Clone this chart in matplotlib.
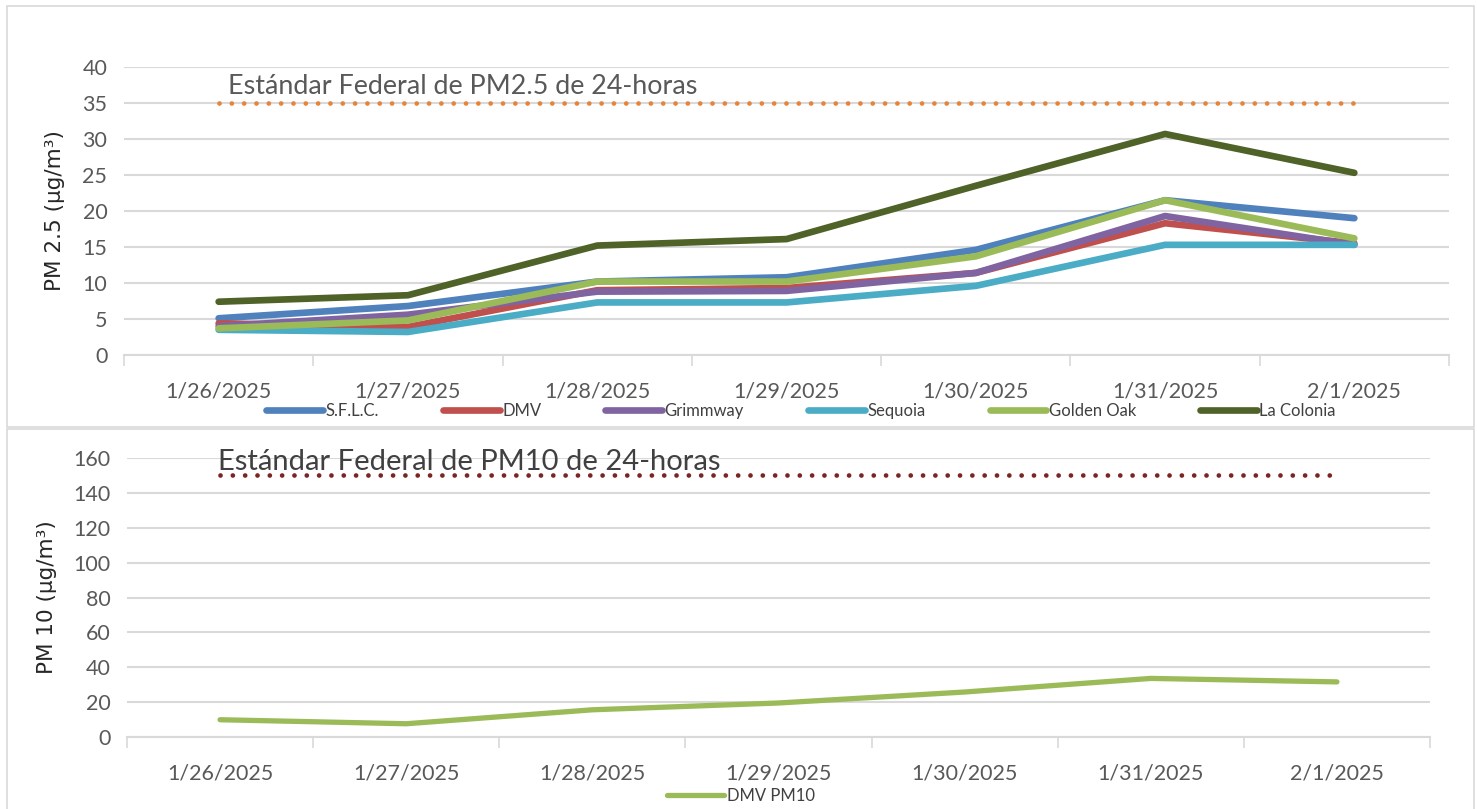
import matplotlib
matplotlib.use("Agg")
import matplotlib.pyplot as plt
from matplotlib.patches import Rectangle
import numpy as np

plt.rcParams['font.family'] = ['Lato', 'DejaVu Sans']

dates = ["1/26/2025", "1/27/2025", "1/28/2025", "1/29/2025", "1/30/2025", "1/31/2025", "2/1/2025"]

sflc = [5.1, 6.8, 10.2, 10.8, 14.6, 21.5, 19.0]
dmv = [4.4, 3.9, 9.0, 9.3, 11.4, 18.3, 15.5]
grimmway = [4.0, 5.6, 8.8, 8.9, 11.4, 19.3, 15.3]
sequoia = [3.5, 3.2, 7.3, 7.3, 9.6, 15.3, 15.3]
golden_oak = [3.7, 4.8, 10.2, 10.2, 13.7, 21.5, 16.2]
la_colonia = [7.4, 8.3, 15.2, 16.1, 23.5, 30.7, 25.3]
pm25_standard = 35

dmv_pm10 = [9.9, 7.6, 15.6, 19.5, 25.8, 33.6, 31.6]
pm10_standard = 150

series25 = [
    ("S.F.L.C.", sflc, "#4F81BD"),
    ("DMV", dmv, "#C0504D"),
    ("Grimmway", grimmway, "#8064A2"),
    ("Sequoia", sequoia, "#4BACC6"),
    ("Golden Oak", golden_oak, "#9BBB59"),
    ("La Colonia", la_colonia, "#4F6228"),
]

W, H = 1477, 809
fig = plt.figure(figsize=(W / 100, H / 100), dpi=100)

def fx(px):
    return px / W

def fy(py):
    return 1 - py / H

# panel borders
fig.patches.append(Rectangle((fx(7), fy(427)), fx(1474) - fx(7), fy(6) - fy(427),
                             transform=fig.transFigure, fill=False, edgecolor="#D9D9D9", lw=1.2))
fig.patches.append(Rectangle((fx(7), fy(815)), fx(1474) - fx(7), fy(429) - fy(815),
                             transform=fig.transFigure, fill=False, edgecolor="#D9D9D9", lw=1.2))

tick_color = "#595959"
grid_color = "#D9D9D9"

def style_axes(ax, ymax, ystep):
    n = len(dates)
    x = np.arange(n)
    ax.set_xlim(-0.5, n - 0.5)
    ax.set_ylim(0, ymax)
    ax.set_yticks(np.arange(0, ymax + 1, ystep))
    ax.set_xticks(np.arange(-0.5, n, 1.0))
    ax.set_xticklabels([])
    ax.set_xticks(x, minor=True)
    ax.set_xticklabels(dates, minor=True)
    ax.tick_params(axis="x", which="major", length=8, width=1.2, color=grid_color, direction="out")
    ax.tick_params(axis="x", which="minor", length=0, pad=19, labelsize=15.5, labelcolor=tick_color)
    ax.tick_params(axis="y", length=0, labelsize=15.5, labelcolor=tick_color, pad=12)
    ax.yaxis.grid(True, color=grid_color, lw=1.5)
    ax.set_axisbelow(True)
    for s in ["top", "right", "left"]:
        ax.spines[s].set_visible(False)
    ax.spines["bottom"].set_color(grid_color)
    ax.spines["bottom"].set_linewidth(1.5)
    return x

# Top chart
ax1 = fig.add_axes([fx(124), fy(355), fx(1449) - fx(124), fy(67) - fy(355)])
x = style_axes(ax1, 40, 5)
ax1.plot(x, [pm25_standard] * len(x), color="#E8843A", lw=3.4,
         linestyle=(0, (0.01, 2.6)), dash_capstyle="round", zorder=2)
handles = []
for name, vals, col in series25:
    h, = ax1.plot(x, vals, color=col, lw=4.8, solid_capstyle="round",
                  solid_joinstyle="round", label=name, zorder=3)
    handles.append(h)
ax1.text(0.05, 37.3, "Estándar Federal de PM2.5 de 24-horas", color="#595959",
         fontsize=19.4, ha="left", va="center")
ax1.set_ylabel("PM 2.5 (µg/m³)", family="DejaVu Sans", fontsize=15.5, color="#262626")
ax1.yaxis.set_label_coords((fx(65) - fx(124)) / (fx(1449) - fx(124)), 0.5)

fig.legend(handles=handles, loc="center", bbox_to_anchor=(fx(801), fy(411)), ncol=6,
           frameon=False, fontsize=12, handlelength=3.4, handletextpad=0.15,
           columnspacing=3.85, labelcolor="#404040")

# Bottom chart
ax2 = fig.add_axes([fx(127), fy(737), fx(1430) - fx(127), fy(458) - fy(737)])
x = style_axes(ax2, 160, 20)
ax2.plot(x, [pm10_standard] * len(x), color="#7B2424", lw=3.4,
         linestyle=(0, (0.01, 2.6)), dash_capstyle="round", zorder=2)
h2, = ax2.plot(x, dmv_pm10, color="#9BBB59", lw=3.8, solid_capstyle="round",
               solid_joinstyle="round", label="DMV PM10", zorder=3)
ax2.text(-0.01, 157.5, "Estándar Federal de PM10 de 24-horas", color="#404040",
         fontsize=21, ha="left", va="center")
ax2.set_ylabel("PM 10 (µg/m³)", family="DejaVu Sans", fontsize=15.5, color="#262626")
ax2.yaxis.set_label_coords((fx(57) - fx(127)) / (fx(1430) - fx(127)), 0.5)

fig.legend(handles=[h2], loc="center", bbox_to_anchor=(fx(741), fy(796)), ncol=1,
           frameon=False, fontsize=12, handlelength=3.4, handletextpad=0.15,
           labelcolor="#404040")

fig.savefig("out.png", dpi=100)
